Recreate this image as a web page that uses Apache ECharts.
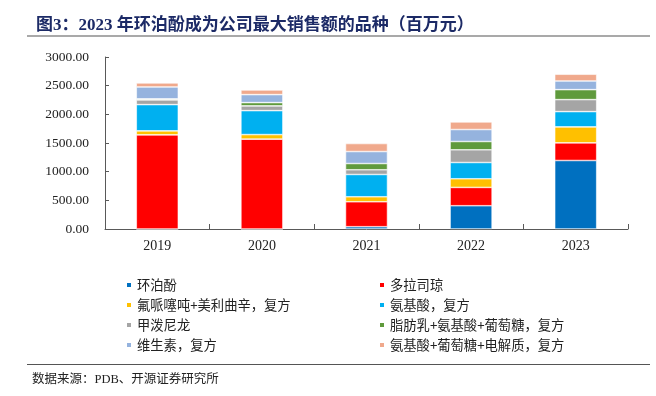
<!DOCTYPE html>
<html><head><meta charset="utf-8">
<script src="https://cdn.jsdelivr.net/npm/echarts@6/dist/echarts.min.js"></script>
<style>html,body{margin:0;padding:0;background:#fff}#c{width:656px;height:396px}</style>
</head><body><div id="c"></div>
<script>
const years = ['2019','2020','2021','2022','2023'];
const seriesNames = ['环泊酚','多拉司琼','氟哌噻吨+美利曲辛，复方','氨基酸，复方','甲泼尼龙','脂肪乳+氨基酸+葡萄糖，复方','维生素，复方','氨基酸+葡萄糖+电解质，复方'];
const huanbofen   = [0, 0, 40, 406, 1195];
const duolasiqiong = [1642, 1567, 435, 319, 308];
const fupai       = [70, 80, 87, 151, 278];
const anjisuan    = [458, 418, 389, 284, 267];
const jiaponilong = [82, 82, 82, 221, 209];
const zhifangru   = [17, 58, 109, 145, 174];
const weishengsu  = [209, 139, 209, 209, 151];
const anjiputao   = [70, 81, 140, 133, 117];
const yTicks = ['0.00','500.00','1000.00','1500.00','2000.00','2500.00','3000.00'];

const seriesData = [huanbofen, duolasiqiong, fupai, anjisuan, jiaponilong, zhifangru, weishengsu, anjiputao];
const colors = ['#0070C0','#FF0000','#FFC000','#00B0F0','#A5A5A5','#5F9A3C','#95B3DE','#F0A98C'];

const chart = echarts.init(document.getElementById('c'), null, {renderer:'canvas'});
const cjk = '"Liberation Serif","Noto Sans CJK SC",serif';
const legendText = {fontSize: 13.3, color: '#222', fontFamily: '"Noto Sans CJK SC",sans-serif', lineHeight: 14};
chart.setOption({
  animation: false,
  color: colors,
  grid: {left: 105, right: 28, top: 57, bottom: 167},
  title: {
    text: '图3：2023 年环泊酚成为公司最大销售额的品种（百万元）',
    left: 31, top: 12,
    textStyle: {fontSize: 17, fontWeight: 'bold', color: '#1C2A66', fontFamily: cjk}
  },
  graphic: [
    {type:'line', shape:{x1:27,y1:36,x2:650,y2:36}, style:{stroke:'#555', lineWidth:1.2}},
    {type:'line', shape:{x1:27,y1:364.5,x2:650,y2:364.5}, style:{stroke:'#555', lineWidth:1.2}},
    {type:'text', left:32, top:373, style:{text:'数据来源：PDB、开源证券研究所', fontSize:12.5, fill:'#222', fontFamily: cjk}}
  ],
  legend: [
    {orient:'vertical', left:120, top:273, itemWidth:6, itemHeight:6, itemGap:6, icon:'rect',
     data:[seriesNames[0], seriesNames[2], seriesNames[4], seriesNames[6]], textStyle: legendText},
    {orient:'vertical', left:373, top:273, itemWidth:6, itemHeight:6, itemGap:6, icon:'rect',
     data:[seriesNames[1], seriesNames[3], seriesNames[5], seriesNames[7]], textStyle: legendText}
  ],
  xAxis: {
    type:'category', data: years,
    axisLine:{lineStyle:{color:'#595959'}},
    axisTick:{show:true, inside:true, length:5, lineStyle:{color:'#595959'}},
    axisLabel:{fontSize:14, color:'#222', fontFamily:'"Liberation Serif",serif', margin:10}
  },
  yAxis: {
    type:'value', min:0, max:3000, interval:500,
    axisLine:{show:true, lineStyle:{color:'#595959'}},
    axisTick:{show:true, inside:true, length:4, lineStyle:{color:'#595959'}},
    splitLine:{show:false},
    axisLabel:{fontSize:13.5, color:'#222', fontFamily:'"Liberation Serif",serif', margin:16,
      formatter: v => yTicks[Math.round(v/500)]}
  },
  series: seriesNames.map((n,i)=>({
    name:n, type:'bar', stack:'total', barWidth:42, data: seriesData[i],
    itemStyle:{borderColor:'#fff', borderWidth:0.6}
  }))
});
</script></body></html>
